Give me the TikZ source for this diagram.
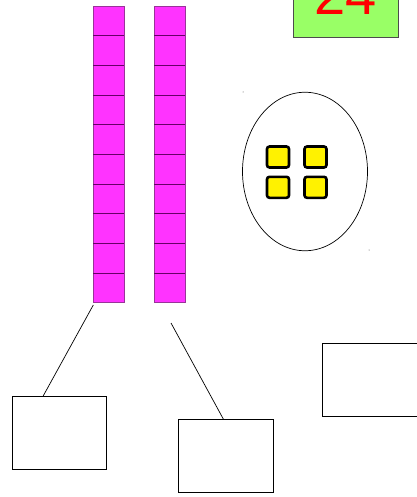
\documentclass[tikz,border=0pt]{standalone}
\usepackage{fontspec}
\setmainfont{Liberation Sans}
\usetikzlibrary{calc,shapes.geometric}
\definecolor{rodfill}{HTML}{FF33FF}
\definecolor{rodedge}{HTML}{993399}
\definecolor{roddiv}{HTML}{660066}
\definecolor{boxgreen}{HTML}{99FF66}
\begin{document}
\begin{tikzpicture}[x=1pt,y=-1pt,
  rod/.style={draw=rodedge, fill=rodfill, line width=0.8pt, minimum width=31pt, minimum height=296.7pt, inner sep=0pt, outer sep=0pt},
  unitsq/.style={draw=black, fill=yellow, line width=2.6pt, rounded corners=2.5pt, minimum width=22pt, minimum height=21pt, inner sep=0pt},
  openbox/.style={draw=black, line width=0.7pt, inner sep=0pt, outer sep=0pt},
  conn/.style={draw=black, line width=0.7pt}]
\useasboundingbox (0,0) rectangle (416,497);
% rods
\node[rod] (rodA) at (108.5,154.35) {};
\node[rod] (rodB) at (169.5,154.35) {};
\foreach \k in {1,...,9}{
  \draw[roddiv, line width=0.8pt] ($(rodA.north west)+(0,29.67*\k)$) -- ($(rodA.north east)+(0,29.67*\k)$);
  \draw[roddiv, line width=0.8pt] ($(rodB.north west)+(0,29.67*\k)$) -- ($(rodB.north east)+(0,29.67*\k)$);
}
% green label box
\node[draw=black!70, fill=boxgreen, line width=0.8pt, minimum width=105pt, minimum height=50pt, inner sep=0pt] (label) at (345.5,12) {};
\node[text=red, font=\fontsize{56}{56}\selectfont, anchor=base, inner sep=0pt] (num) at (346,15) {24};
% ellipse with units
\node[draw=black, line width=0.7pt, ellipse, minimum width=125pt, minimum height=158.5pt, inner sep=0pt] (oval) at (305,171.5) {};
\node[unitsq] (u1) at (278,157) {};
\node[unitsq] (u2) at (315.5,157) {};
\node[unitsq] (u3) at (278,187.3) {};
\node[unitsq] (u4) at (315.5,187.3) {};
\fill[black!70] (243,92) circle (0.5pt);
\fill[black!70] (369,250) circle (0.5pt);
% boxes
\node[openbox, minimum width=94.5pt, minimum height=72.7pt] (boxA) at (59.5,432.6) {};
\node[openbox, minimum width=94.6pt, minimum height=73pt] (boxB) at (226,455.5) {};
\node[openbox, minimum width=100pt, minimum height=72.7pt, anchor=north west] (boxC) at (322,343.3) {};
% connectors
\coordinate (sA) at (93.3,305);
\coordinate (eA) at (43,396.3);
\coordinate (sB) at (171,323);
\coordinate (eB) at (223.3,419);
\draw[conn] (sA) -- (eA);
\draw[conn] (sB) -- (eB);
\end{tikzpicture}
\end{document}
